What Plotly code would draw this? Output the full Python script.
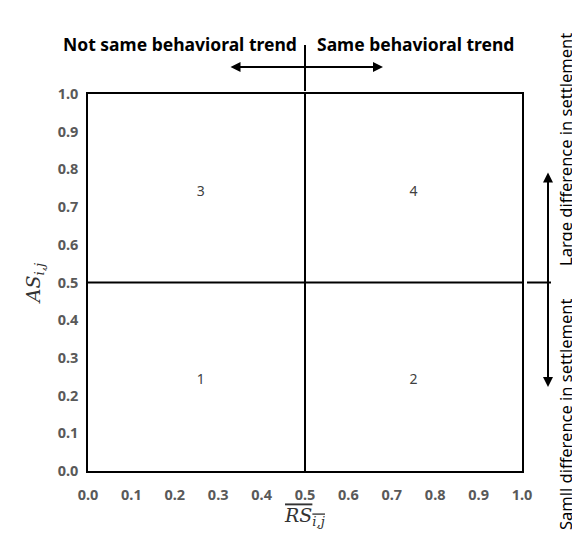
import plotly.graph_objects as go

# quadrant split and quadrant labels
split = 0.5
quad_x = [0.26, 0.75, 0.26, 0.75]
quad_y = [0.24, 0.24, 0.74, 0.74]
quad_text = ["1", "2", "3", "4"]
ticks = [0.0, 0.1, 0.2, 0.3, 0.4, 0.5, 0.6, 0.7, 0.8, 0.9, 1.0]

FONT = "Noto Sans, Open Sans, sans-serif"
TICK = dict(family=FONT, size=14.5, color="#595959", weight="bold")

# the page body adds an 8px margin, so keep the figure inside the window
W, H = 572, 530
L, R, T, B = 80, 58, 86, 67
PW, PH = W - L - R, H - T - B

fig = go.Figure()

fig.add_trace(go.Scatter(
    x=quad_x, y=quad_y, text=quad_text, mode="text",
    textfont=dict(family=FONT, size=14, color="#404040"),
    hoverinfo="skip", showlegend=False,
))

# dividing lines inside the box
fig.add_shape(type="line", xref="x", yref="y", x0=split, x1=split, y0=0, y1=1,
              line=dict(color="black", width=2))
fig.add_shape(type="line", xref="x", yref="y", x0=0, x1=1, y0=split, y1=split,
              line=dict(color="black", width=2))

# extensions outside the box
fig.add_shape(type="line", xref="x", yref="paper", x0=split, x1=split,
              y0=1 + 3 / PH, y1=1 + 49 / PH, line=dict(color="black", width=2))
fig.add_shape(type="line", xref="paper", yref="y", x0=1 + 5 / PW, x1=1 + 29 / PW,
              y0=split, y1=split, line=dict(color="black", width=2))

annots = [
    # top double arrow
    dict(x=0.5 + 78 / PW, y=1 + 27 / PH, xref="paper", yref="paper", ax=-154, ay=0,
         text="", showarrow=True, arrowhead=2, arrowside="end+start",
         arrowsize=1, arrowwidth=2, arrowcolor="black"),
    # right double arrow
    dict(x=1 + 26 / PW, y=0.5 + 110 / PH, xref="paper", yref="paper", ax=0, ay=216,
         text="", showarrow=True, arrowhead=2, arrowside="end+start",
         arrowsize=1, arrowwidth=2, arrowcolor="black"),
    dict(x=0.5 - 6 / PW, y=1 + 50 / PH, xref="paper", yref="paper", xanchor="right",
         yanchor="middle", showarrow=False, text="<b>Not same behavioral trend</b>",
         font=dict(family=FONT, size=17.5, color="black")),
    dict(x=0.5 + 10 / PW, y=1 + 50 / PH, xref="paper", yref="paper", xanchor="left",
         yanchor="middle", showarrow=False, text="<b>Same behavioral trend</b>",
         font=dict(family=FONT, size=17.5, color="black")),
    dict(x=1 + 43 / PW, y=56 / PH, xref="paper", yref="paper", textangle=-90,
         xanchor="center", yanchor="middle", showarrow=False,
         text="Samll difference in settlement",
         font=dict(family=FONT, size=16.5, color="black")),
    dict(x=1 + 43 / PW, y=1 - 56 / PH, xref="paper", yref="paper", textangle=-90,
         xanchor="center", yanchor="middle", showarrow=False,
         text="Large difference in settlement",
         font=dict(family=FONT, size=16.5, color="black")),
]

fig.update_layout(
    width=W, height=H,
    paper_bgcolor="white", plot_bgcolor="white",
    margin=dict(l=L, r=R, t=T, b=B),
    annotations=annots,
    xaxis=dict(range=[0, 1], tickvals=ticks, tickformat=".1f", showgrid=False,
               zeroline=False, showline=True, linecolor="black", linewidth=1.5,
               mirror=True, ticks="", tickfont=TICK, ticklabelstandoff=10,
               title=dict(text="<span style='text-decoration:overline'><i>RS</i><sub><i>i,j</i></sub></span>",
                          font=dict(family="DejaVu Serif, serif", size=19, color="#333333"),
                          standoff=6)),
    yaxis=dict(range=[0, 1], tickvals=ticks, tickformat=".1f", showgrid=False,
               zeroline=False, showline=True, linecolor="black", linewidth=1.5,
               mirror=True, ticks="", tickfont=TICK, ticklabelstandoff=5,
               title=dict(text="<i>AS</i><sub><i>i,j</i></sub>",
                          font=dict(family="DejaVu Serif, serif", size=19, color="#333333"),
                          standoff=12)),
)

fig.write_html("out.html")
